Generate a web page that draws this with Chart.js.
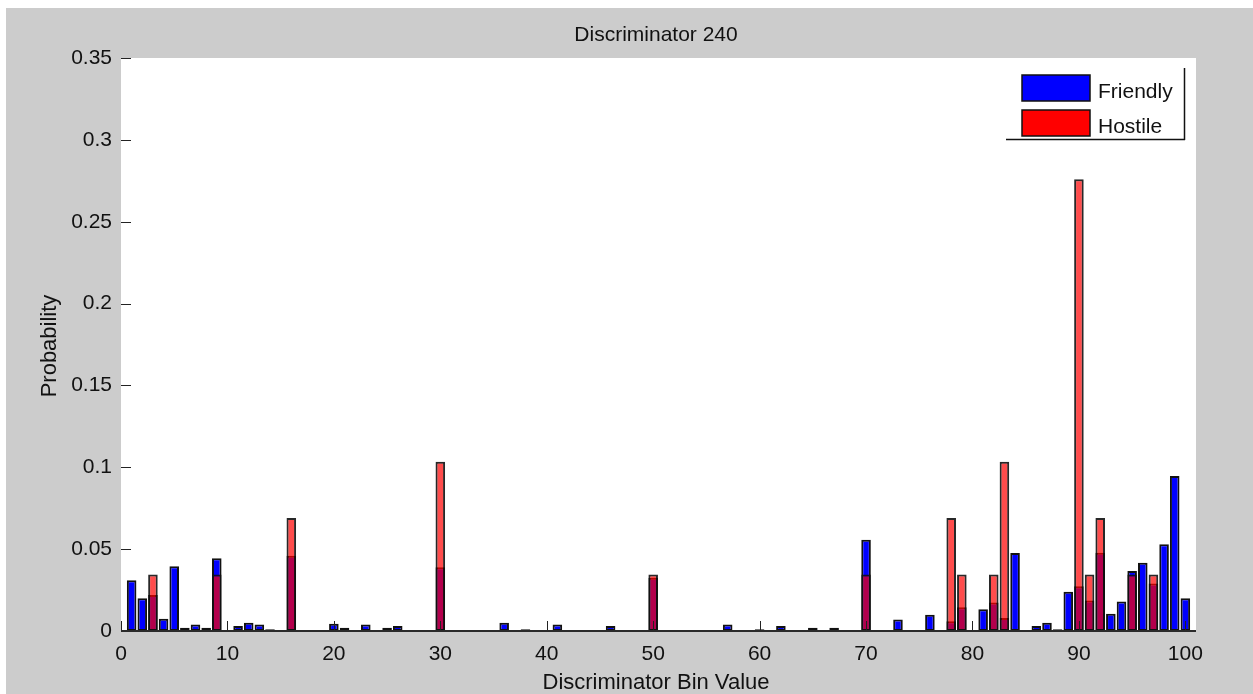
<!DOCTYPE html>
<html><head><meta charset="utf-8">
<script src="https://cdn.jsdelivr.net/npm/chart.js@4/dist/chart.umd.min.js"></script>
<style>html,body{margin:0;padding:0;background:#fff;overflow:hidden}canvas{display:block}</style>
</head><body>
<div style="width:1253px;height:694px;position:relative"><canvas id="c" width="1253" height="694"></canvas></div>
<script>
const chartTitle = 'Discriminator 240';
const xAxisTitle = 'Discriminator Bin Value';
const yAxisTitle = 'Probability';
const seriesNames = ['Friendly', 'Hostile'];
const bins = [1,2,3,4,5,6,7,8,9,10,11,12,13,14,15,16,17,18,19,20,
  21,22,23,24,25,26,27,28,29,30,31,32,33,34,35,36,37,38,39,40,
  41,42,43,44,45,46,47,48,49,50,51,52,53,54,55,56,57,58,59,60,
  61,62,63,64,65,66,67,68,69,70,71,72,73,74,75,76,77,78,79,80,
  81,82,83,84,85,86,87,88,89,90,91,92,93,94,95,96,97,98,99,100];
const friendly = [
  0.031, 0.020, 0.022, 0.0075, 0.0395, 0.002, 0.004, 0.002, 0.0445, 0,
  0.003, 0.005, 0.004, 0.001, 0, 0.046, 0, 0, 0, 0.0045,
  0.002, 0, 0.004, 0, 0.002, 0.003, 0, 0, 0, 0.039,
  0, 0, 0, 0, 0, 0.005, 0, 0.001, 0, 0,
  0.004, 0, 0, 0, 0, 0.003, 0, 0, 0, 0.0325,
  0, 0, 0, 0, 0, 0, 0.004, 0, 0, 0.001,
  0, 0.003, 0, 0, 0.002, 0, 0.002, 0, 0, 0.0558,
  0, 0, 0.007, 0, 0, 0.010, 0, 0.006, 0.0145, 0,
  0.0133, 0.0174, 0.008, 0.0477, 0, 0.003, 0.005, 0.001, 0.024, 0.0273,
  0.0187, 0.0478, 0.0106, 0.018, 0.0367, 0.0417, 0.029, 0.053, 0.0947, 0.020];
const hostile = [
  0, 0, 0.0345, 0, 0, 0, 0, 0, 0.0345, 0,
  0, 0, 0, 0, 0, 0.069, 0, 0, 0, 0,
  0, 0, 0, 0, 0, 0, 0, 0, 0, 0.1034,
  0, 0, 0, 0, 0, 0, 0, 0, 0, 0,
  0, 0, 0, 0, 0, 0, 0, 0, 0, 0.0345,
  0, 0, 0, 0, 0, 0, 0, 0, 0, 0,
  0, 0, 0, 0, 0, 0, 0, 0, 0, 0.0345,
  0, 0, 0, 0, 0, 0, 0, 0.069, 0.0345, 0,
  0, 0.0345, 0.1034, 0, 0, 0, 0, 0, 0, 0.2759,
  0.0345, 0.069, 0, 0, 0.0345, 0, 0.0345, 0, 0, 0];
const xTickValues = [0, 10, 20, 30, 40, 50, 60, 70, 80, 90, 100];
const yTickValues = [0, 0.05, 0.1, 0.15, 0.2, 0.25, 0.3, 0.35];
const yTickLabels = ['0', '0.05', '0.1', '0.15', '0.2', '0.25', '0.3', '0.35'];

const FONT = "'Liberation Sans', Arial, sans-serif";
const legendSwatch = ['#0000ff', '#ff0000'];

const decor = {
  id: 'decor',
  beforeDraw(chart) {
    const ctx = chart.ctx, a = chart.chartArea;
    ctx.save();
    ctx.fillStyle = '#ffffff';
    ctx.fillRect(0, 0, chart.width, chart.height);
    ctx.fillStyle = '#cccccc';
    ctx.fillRect(6, 8, chart.width - 6, chart.height - 8);
    ctx.fillStyle = '#ffffff';
    ctx.fillRect(a.left, a.top, a.right - a.left, a.bottom - a.top);
    ctx.restore();
  },
  afterDraw(chart) {
    const ctx = chart.ctx, a = chart.chartArea;
    const xs = chart.scales.x, ys = chart.scales.y;
    ctx.save();
    // inward ticks
    ctx.strokeStyle = '#222';
    ctx.lineWidth = 1;
    ctx.beginPath();
    yTickValues.forEach(v => {
      const y = Math.round(ys.getPixelForValue(v)) + 0.5;
      ctx.moveTo(a.left, y); ctx.lineTo(a.left + 10, y);
    });
    xTickValues.forEach(v => {
      const x = Math.round(xs.getPixelForValue(v)) + 0.5;
      ctx.moveTo(x, a.bottom); ctx.lineTo(x, a.bottom - 10);
    });
    ctx.stroke();
    // bottom axis line
    ctx.strokeStyle = '#2a2a2a';
    ctx.lineWidth = 2;
    ctx.beginPath();
    ctx.moveTo(a.left, a.bottom); ctx.lineTo(a.right, a.bottom);
    ctx.stroke();
    // titles
    ctx.fillStyle = '#111';
    ctx.font = '21px ' + FONT;
    ctx.textAlign = 'center';
    ctx.textBaseline = 'alphabetic';
    ctx.fillText(chartTitle, 656, 41);
    ctx.font = '22px ' + FONT;
    ctx.fillText(xAxisTitle, 656, 689);
    ctx.save();
    ctx.translate(56, 346);
    ctx.rotate(-Math.PI / 2);
    ctx.fillText(yAxisTitle, 0, 0);
    ctx.restore();
    // legend
    ctx.fillStyle = '#ffffff';
    ctx.fillRect(1007, 70, 177, 69);
    ctx.strokeStyle = '#111';
    ctx.lineWidth = 1.5;
    ctx.beginPath();
    ctx.moveTo(1184.5, 68); ctx.lineTo(1184.5, 140);
    ctx.moveTo(1006, 139.5); ctx.lineTo(1185, 139.5);
    ctx.stroke();
    chart.data.datasets.forEach((ds, i) => {
      const top = 75 + i * 35;
      ctx.fillStyle = legendSwatch[i];
      ctx.fillRect(1022, top, 68, 26);
      ctx.strokeStyle = '#111';
      ctx.lineWidth = 1.5;
      ctx.strokeRect(1022, top, 68, 26);
      ctx.fillStyle = '#111';
      ctx.font = '21px ' + FONT;
      ctx.textAlign = 'left';
      ctx.fillText(ds.label, 1098, top + 23);
    });
    ctx.restore();
  }
};

new Chart(document.getElementById('c'), {
  type: 'bar',
  data: {
    labels: bins,
    datasets: [
      {
        label: seriesNames[0],
        data: friendly.map(v => v || null),
        backgroundColor: '#0000ff',
        borderColor: '#111111',
        borderWidth: 2,
        borderSkipped: false,
        grouped: false,
        order: 1,
        barPercentage: 0.9,
        categoryPercentage: 1
      },
      {
        label: seriesNames[1],
        data: hostile.map(v => v || null),
        backgroundColor: 'rgba(255,0,0,0.7)',
        borderColor: 'rgba(17,17,17,0.9)',
        borderWidth: 2,
        borderSkipped: false,
        grouped: false,
        order: 0,
        barPercentage: 0.9,
        categoryPercentage: 1
      }
    ]
  },
  options: {
    responsive: false,
    animation: false,
    devicePixelRatio: 1,
    layout: { padding: { top: 58, right: 57, left: 0, bottom: 0 } },
    plugins: { legend: { display: false }, tooltip: { enabled: false }, title: { display: false } },
    scales: {
      x: {
        type: 'linear',
        min: 0,
        max: 101,
        offset: false,
        grid: { display: false, drawTicks: false },
        border: { display: false },
        afterBuildTicks: s => { s.ticks = xTickValues.map(v => ({ value: v })); },
        afterFit: s => { s.height = 63; },
        ticks: { padding: 11, color: '#111', font: { family: FONT, size: 21 }, maxRotation: 0, autoSkip: false, callback: v => String(v) }
      },
      y: {
        min: 0,
        max: 0.35,
        grid: { display: false, drawTicks: false },
        border: { display: false },
        afterBuildTicks: s => { s.ticks = yTickValues.map(v => ({ value: v })); },
        afterFit: s => { s.width = 121; },
        ticks: { padding: 9, color: '#111', font: { family: FONT, size: 21 }, callback: (v, i) => yTickLabels[i] }
      }
    }
  },
  plugins: [decor]
});
</script>
</body></html>
